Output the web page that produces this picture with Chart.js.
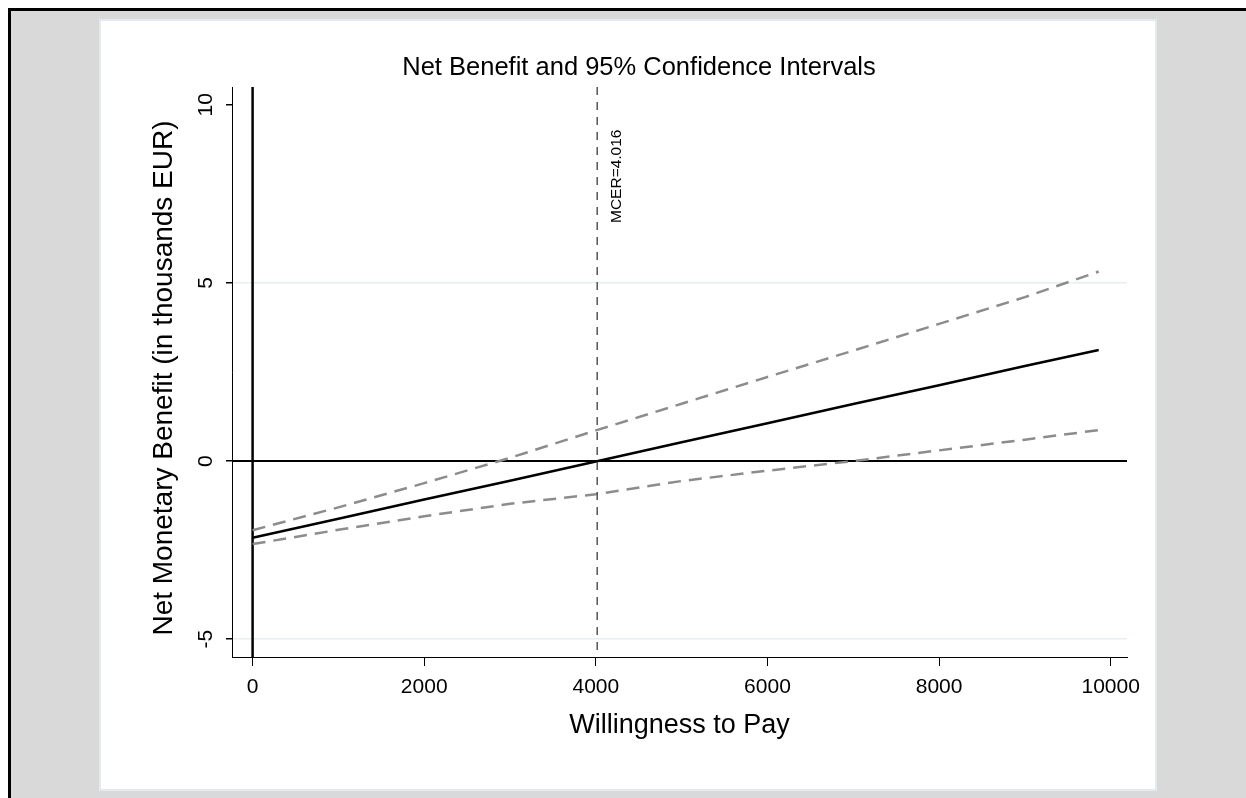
<!DOCTYPE html>
<html>
<head>
<meta charset="utf-8">
<script src="https://cdn.jsdelivr.net/npm/chart.js@4"></script>
<style>
  html, body { margin: 0; padding: 0; background: #fff; }
  #nbChart { display: block; }
</style>
</head>
<body>
<canvas id="nbChart" width="1246" height="798"></canvas>
<script>
// --- Data ---
const wtp = [0, 1000, 2000, 3000, 4000, 5000, 6000, 7000, 8000, 9000, 9860];
const nbMean = [-2.15, -1.62, -1.08, -0.55, -0.01, 0.53, 1.06, 1.60, 2.13, 2.67, 3.12];
const nbUpper = [-1.94, -1.30, -0.62, 0.09, 0.86, 1.61, 2.36, 3.10, 3.85, 4.60, 5.32];
const nbLower = [-2.33, -1.93, -1.55, -1.20, -0.93, -0.56, -0.27, 0.00, 0.30, 0.60, 0.87];
const mcer = 4016;
const mcerLabel = "MCER=4.016";
const xTicks = [0, 2000, 4000, 6000, 8000, 10000];
const yTicks = [-5, 0, 5, 10];
const yGridTicks = [-5, 5];

const FONT = "'Liberation Sans', Arial, Helvetica, sans-serif";

function toPoints(ys) {
  return wtp.map((x, i) => ({ x, y: ys[i] }));
}

// --- Background: grey page, black frame, white graph panel ---
const backdrop = {
  id: "backdrop",
  beforeDraw(chart) {
    const c = chart.ctx;
    c.save();
    c.fillStyle = "#ffffff";
    c.fillRect(0, 0, chart.width, chart.height);
    c.fillStyle = "#000000";
    c.fillRect(8, 8, chart.width - 8, 3);
    c.fillRect(8, 8, 3, chart.height - 8);
    c.fillStyle = "#d9d9d9";
    c.fillRect(11, 11, chart.width - 11, chart.height - 11);
    c.fillStyle = "#ffffff";
    c.fillRect(100, 20, 1056, 770);
    c.strokeStyle = "#e3ebef";
    c.lineWidth = 2;
    c.strokeRect(100, 20, 1056, 770);
    c.restore();
  }
};

// --- Reference lines at zero and at the MCER ---
const refLines = {
  id: "refLines",
  beforeDatasetsDraw(chart) {
    const { ctx: c, chartArea: a, scales: { x, y } } = chart;
    c.save();
    c.strokeStyle = "#000";
    c.lineWidth = 2;
    const y0 = y.getPixelForValue(0);
    c.beginPath();
    c.moveTo(a.left, y0);
    c.lineTo(a.right, y0);
    c.stroke();
    const x0 = x.getPixelForValue(0);
    c.lineWidth = 2.5;
    c.beginPath();
    c.moveTo(x0, a.top);
    c.lineTo(x0, a.bottom);
    c.stroke();
    c.restore();
  },
  afterDatasetsDraw(chart) {
    const { ctx: c, chartArea: a, scales: { x } } = chart;
    const xm = x.getPixelForValue(mcer);
    c.save();
    c.strokeStyle = "#555";
    c.lineWidth = 1.5;
    c.setLineDash([8, 7]);
    c.beginPath();
    c.moveTo(xm, a.top);
    c.lineTo(xm, a.bottom);
    c.stroke();
    c.setLineDash([]);
    c.fillStyle = "#000";
    c.font = "15.5px " + FONT;
    c.translate(xm + 24, 223);
    c.rotate(-Math.PI / 2);
    c.textAlign = "left";
    c.textBaseline = "alphabetic";
    c.fillText(mcerLabel, 0, 0);
    c.restore();
  }
};

// --- Titles and tick labels (Stata style) ---
const labels = {
  id: "labels",
  afterDraw(chart) {
    const { ctx: c, chartArea: a, scales: { x, y } } = chart;
    c.save();
    c.fillStyle = "#000";
    c.textBaseline = "alphabetic";

    c.font = "21px " + FONT;
    c.textAlign = "center";
    xTicks.forEach(v => c.fillText(String(v), x.getPixelForValue(v), 693));
    yTicks.forEach(v => {
      c.save();
      c.translate(212, y.getPixelForValue(v));
      c.rotate(-Math.PI / 2);
      c.fillText(String(v), 0, 0);
      c.restore();
    });

    c.font = "25.5px " + FONT;
    c.fillText("Net Benefit and 95% Confidence Intervals", 639, 75);

    c.font = "27px " + FONT;
    c.fillText("Willingness to Pay", (a.left + a.right) / 2, 733);

    c.font = "28px " + FONT;
    c.translate(172, (a.top + a.bottom) / 2 + 6);
    c.rotate(-Math.PI / 2);
    c.fillText("Net Monetary Benefit (in thousands EUR)", 0, 0);
    c.restore();
  }
};

// --- Chart.js setup ---
const ctx = document.getElementById("nbChart").getContext("2d");

const chart = new Chart(ctx, {
  type: "scatter",
  data: {
    datasets: [
      {
        label: "Upper 95% CI",
        data: toPoints(nbUpper),
        showLine: true,
        borderColor: "#8c8c8c",
        borderWidth: 2.5,
        borderDash: [13, 8],
        pointRadius: 0,
        tension: 0
      },
      {
        label: "Lower 95% CI",
        data: toPoints(nbLower),
        showLine: true,
        borderColor: "#8c8c8c",
        borderWidth: 2.5,
        borderDash: [13, 8],
        pointRadius: 0,
        tension: 0
      },
      {
        label: "Net Monetary Benefit",
        data: toPoints(nbMean),
        showLine: true,
        borderColor: "#000",
        borderWidth: 2.5,
        pointRadius: 0,
        tension: 0
      }
    ]
  },
  options: {
    responsive: false,
    animation: false,
    devicePixelRatio: 1,
    layout: { padding: { left: 226, right: 119, top: 87, bottom: 132 } },
    plugins: {
      legend: { display: false },
      tooltip: { enabled: false }
    },
    scales: {
      x: {
        type: "linear",
        min: -240,
        max: 10190,
        afterBuildTicks: scale => { scale.ticks = xTicks.map(value => ({ value })); },
        ticks: { display: false },
        grid: {
          color: "rgba(0,0,0,0)",
          tickColor: "#000",
          tickLength: 9,
          lineWidth: 1
        },
        border: { display: true, color: "#000", width: 1 }
      },
      y: {
        type: "linear",
        min: -5.5,
        max: 10.5,
        afterBuildTicks: scale => { scale.ticks = yTicks.map(value => ({ value })); },
        ticks: { display: false },
        grid: {
          color: c => yGridTicks.includes(c.tick && c.tick.value) ? "#e6eef0" : "rgba(0,0,0,0)",
          tickColor: "#000",
          tickLength: 6,
          lineWidth: 1.5
        },
        border: { display: true, color: "#000", width: 1 }
      }
    }
  },
  plugins: [backdrop, refLines, labels]
});
</script>
</body>
</html>
